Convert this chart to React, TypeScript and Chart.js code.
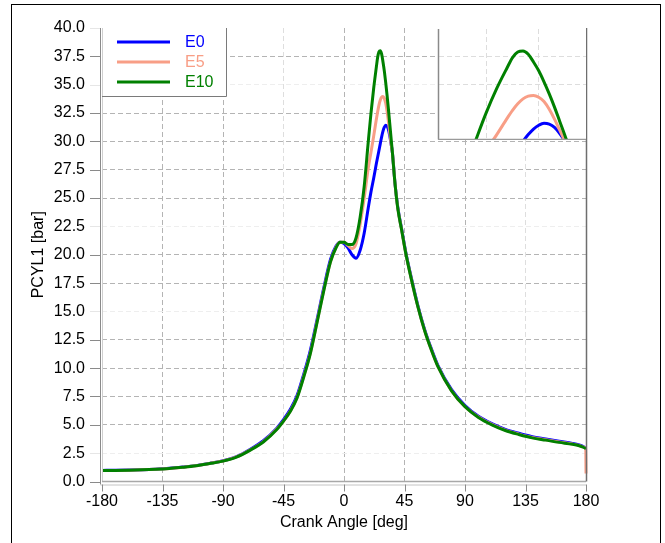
import React, { useEffect, useRef } from "react";
import { Chart, registerables } from "chart.js";

Chart.register(...registerables);

// ---------------- data ----------------
const ANGLES = [
  -180, -170, -160, -150, -140, -130, -120, -110, -100, -90,
  -80, -70, -60, -50, -45, -40, -35, -30, -25, -20, -15, -10, -6, -3,
  0, 3, 6, 9, 12, 15, 18, 20, 22, 24,
  25, 26, 27, 28, 29, 30, 31, 32, 33, 34, 35, 36,
  38, 40, 43, 46, 50, 55, 60, 65, 70, 80, 90,
  100, 110, 120, 130, 140, 150, 160, 170, 175, 178, 179.8, 180,
];

const E0 = [
  0.98, 0.99, 1.01, 1.04, 1.09, 1.16, 1.27, 1.4, 1.6, 1.83,
  2.2, 2.82, 3.6, 4.7, 5.45, 6.35, 7.55, 9.45, 11.6, 14.3, 17.1, 19.6, 20.75, 21.1,
  21.0, 20.6, 20.0, 19.7, 20.4, 21.9, 24.1, 25.5, 26.7, 28.0,
  28.6, 29.2, 29.8, 30.4, 30.9, 31.25, 31.43, 31.35, 31.05, 30.5, 29.8, 29.0,
  26.2, 24.2, 22.2, 20.2, 18.0, 15.5, 13.4, 11.7, 10.2, 8.1, 6.7,
  5.75, 5.1, 4.6, 4.25, 3.95, 3.75, 3.55, 3.36, 3.22, 3.08, 2.95, 2.92,
];

const E5 = [
  0.97, 0.98, 1.0, 1.03, 1.08, 1.15, 1.26, 1.39, 1.59, 1.81,
  2.17, 2.77, 3.52, 4.62, 5.33, 6.2, 7.38, 9.25, 11.35, 14.1, 16.9, 19.4, 20.65, 21.1,
  21.1, 20.8, 20.55, 21.0, 22.7, 25.0, 27.6, 29.0, 30.4, 31.9,
  32.6, 33.2, 33.65, 33.9, 33.96, 33.8, 33.4, 32.7, 31.8, 30.8, 29.8, 29.0,
  26.2, 24.1, 22.1, 20.1, 17.9, 15.4, 13.3, 11.6, 10.1, 8.0, 6.6,
  5.68, 5.03, 4.53, 4.18, 3.88, 3.68, 3.48, 3.3, 3.17, 3.04, 2.9, 0.7,
];

const E10 = [
  0.97, 0.98, 1.0, 1.03, 1.08, 1.15, 1.25, 1.38, 1.58, 1.8,
  2.15, 2.75, 3.48, 4.58, 5.32, 6.17, 7.35, 9.2, 11.3, 14.05, 16.85, 19.4, 20.6, 21.1,
  21.1, 20.9, 20.9, 21.5, 23.3, 26.0, 29.9, 32.4, 34.6, 36.5,
  37.4, 37.9, 38.0, 37.7, 37.0, 36.2, 35.2, 34.1, 32.9, 31.6, 30.3, 29.0,
  26.2, 24.1, 22.1, 20.1, 17.9, 15.4, 13.3, 11.6, 10.1, 8.0, 6.6,
  5.65, 5.0, 4.5, 4.15, 3.85, 3.65, 3.45, 3.28, 3.15, 3.02, 2.9, 2.88,
];

const SERIES_NAMES = ["E0", "E5", "E10"];
const X_TICKS = [-180, -135, -90, -45, 0, 45, 90, 135, 180];
const Y_TICKS = [0, 2.5, 5, 7.5, 10, 12.5, 15, 17.5, 20, 22.5, 25, 27.5, 30, 32.5, 35, 37.5, 40];
const FAINT_Y = [2.5, 15, 22.5, 35, 40];
const FAINT_X = [-45, 135];
const X_TITLE = "Crank Angle [deg]";
const Y_TITLE = "PCYL1 [bar]";
const INSET_X_RANGE = [11, 39];
const INSET_Y_RANGE = [30, 40];
const INSET_X_GRID = [20, 30];
const INSET_Y_GRID = [35, 37.5];

// ---------------- styles ----------------
const FONT = "'Liberation Sans', Arial, Helvetica, sans-serif";
const COLORS = ["#0000ff", "#f89e86", "#008000"];
const SERIES_VALUES = [E0, E5, E10];
const ORDERS = [3, 2, 1];

function makeDatasets(lineWidth: number, clip: any) {
  return SERIES_NAMES.map((name, i) => ({
    label: name,
    data: ANGLES.map((a, k) => ({ x: a, y: SERIES_VALUES[i][k] })),
    borderColor: COLORS[i],
    backgroundColor: COLORS[i],
    borderWidth: lineWidth,
    pointRadius: 0,
    cubicInterpolationMode: "monotone" as const,
    fill: false,
    order: ORDERS[i],
    clip,
  }));
}

const mainDecor = {
  id: "mainDecor",
  afterDraw(chart: any) {
    const { ctx, chartArea } = chart;
    const { left, right, top, bottom } = chartArea;
    const xs = chart.scales.x;
    const ys = chart.scales.y;
    ctx.save();
    // y axis line
    ctx.strokeStyle = "#8a8a8a";
    ctx.lineWidth = 1;
    ctx.beginPath();
    ctx.moveTo(left - 1.5, top);
    ctx.lineTo(left - 1.5, bottom + 3);
    ctx.stroke();
    ctx.strokeStyle = "#cfcfcf";
    ctx.beginPath();
    ctx.moveTo(left + 0.5, top);
    ctx.lineTo(left + 0.5, bottom);
    ctx.stroke();
    // bottom plot border
    ctx.strokeStyle = "#a8a8a8";
    ctx.lineWidth = 1.5;
    ctx.beginPath();
    ctx.moveTo(left, bottom);
    ctx.lineTo(right, bottom);
    ctx.stroke();
    // x axis line
    ctx.strokeStyle = "#c4c4c4";
    ctx.lineWidth = 1;
    ctx.beginPath();
    ctx.moveTo(left - 1.5, bottom + 3.5);
    ctx.lineTo(right, bottom + 3.5);
    ctx.stroke();
    // right border
    ctx.strokeStyle = "#6e6e6e";
    ctx.lineWidth = 1.5;
    ctx.beginPath();
    ctx.moveTo(right + 0.5, top);
    ctx.lineTo(right + 0.5, bottom);
    ctx.stroke();
    // y tick marks
    ctx.lineWidth = 1;
    Y_TICKS.forEach((v) => {
      const y = Math.round(ys.getPixelForValue(v)) + 0.5;
      ctx.strokeStyle = FAINT_Y.includes(v) ? "#e6e6e6" : "#8a8a8a";
      ctx.beginPath();
      ctx.moveTo(left - 12, y);
      ctx.lineTo(left - 2, y);
      ctx.stroke();
    });
    // x tick marks
    X_TICKS.forEach((v) => {
      const x = Math.round(xs.getPixelForValue(v)) + 0.5;
      ctx.strokeStyle = "#8a8a8a";
      ctx.beginPath();
      ctx.moveTo(x, bottom + 3);
      ctx.lineTo(x, bottom + 10);
      ctx.stroke();
    });
    // legend
    const lx0 = left;
    const lx1 = left + 124;
    const ly0 = top;
    const ly1 = top + 68;
    ctx.fillStyle = "#ffffff";
    ctx.fillRect(lx0 + 1, ly0, lx1 - lx0 - 1, ly1 - ly0);
    ctx.strokeStyle = "#7a7a7a";
    ctx.lineWidth = 1;
    ctx.beginPath();
    ctx.moveTo(lx1 + 0.5, ly0);
    ctx.lineTo(lx1 + 0.5, ly1 + 0.5);
    ctx.lineTo(lx0, ly1 + 0.5);
    ctx.stroke();
    ctx.font = `16px ${FONT}`;
    ctx.textBaseline = "middle";
    ctx.textAlign = "left";
    SERIES_NAMES.forEach((name, i) => {
      const y = top + 14 + i * 20;
      ctx.strokeStyle = COLORS[i];
      ctx.lineWidth = 3;
      ctx.beginPath();
      ctx.moveTo(left + 15, y);
      ctx.lineTo(left + 68, y);
      ctx.stroke();
      ctx.fillStyle = COLORS[i];
      ctx.fillText(name, left + 83, y + 1);
    });
    ctx.restore();
  },
};

const insetDecor = {
  id: "insetDecor",
  beforeDraw(chart: any) {
    const { ctx, width, height } = chart;
    ctx.save();
    ctx.fillStyle = "#ffffff";
    ctx.fillRect(0, 0, width, height);
    ctx.restore();
  },
  afterDraw(chart: any) {
    const { ctx, chartArea } = chart;
    const { left, right, top, bottom } = chartArea;
    ctx.save();
    ctx.lineWidth = 1.5;
    ctx.strokeStyle = "#8a8a8a";
    ctx.beginPath();
    ctx.moveTo(left - 0.5, top);
    ctx.lineTo(left - 0.5, bottom + 0.5);
    ctx.stroke();
    ctx.strokeStyle = "#9a9a9a";
    ctx.beginPath();
    ctx.moveTo(left - 1, bottom + 0.5);
    ctx.lineTo(right, bottom + 0.5);
    ctx.stroke();
    ctx.restore();
  },
};

export default function App() {
  const mainRef = useRef<HTMLCanvasElement>(null);
  const insetRef = useRef<HTMLCanvasElement>(null);

  useEffect(() => {
    const font16 = { family: FONT, size: 16 };
    const main = new Chart(mainRef.current as HTMLCanvasElement, {
      type: "line",
      data: { datasets: makeDatasets(3, 2) as any },
      options: {
        responsive: false,
        animation: false,
        events: [],
        layout: { padding: { left: 12, top: 28, right: 79, bottom: 0 } },
        plugins: { legend: { display: false }, tooltip: { enabled: false } },
        scales: {
          x: {
            type: "linear",
            min: -180,
            max: 180,
            afterBuildTicks: (s: any) => {
              s.ticks = X_TICKS.map((v) => ({ value: v }));
            },
            afterFit: (s: any) => {
              s.height = 61.5;
            },
            ticks: {
              font: font16,
              color: "#000",
              padding: 10,
              maxRotation: 0,
              autoSkip: false,
              callback: (v: any) => String(v),
            },
            grid: {
              drawTicks: false,
              lineWidth: 1,
              color: (c: any) => {
                const v = c.tick ? c.tick.value : 0;
                if (v === -180 || v === 180) return "rgba(0,0,0,0)";
                return FAINT_X.includes(v) ? "#dedede" : "#b4b4b4";
              },
            },
            border: { display: false, dash: [5, 3] },
            title: {
              display: true,
              text: X_TITLE,
              font: font16,
              color: "#000",
              padding: { top: 0, bottom: 11 },
            },
          },
          y: {
            type: "linear",
            min: 0,
            max: 40,
            afterBuildTicks: (s: any) => {
              s.ticks = Y_TICKS.map((v) => ({ value: v }));
            },
            afterFit: (s: any) => {
              s.width = 90;
            },
            ticks: {
              font: font16,
              color: "#000",
              padding: 17,
              autoSkip: false,
              callback: (v: any) => Number(v).toFixed(1),
            },
            grid: {
              drawTicks: false,
              lineWidth: 1,
              color: (c: any) => {
                const v = c.tick ? c.tick.value : 0;
                if (v === 0 || v === 40) return "rgba(0,0,0,0)";
                return FAINT_Y.includes(v) ? "#eeeeee" : "#b4b4b4";
              },
            },
            border: { display: false, dash: [5, 3] },
            title: {
              display: true,
              text: Y_TITLE,
              font: font16,
              color: "#000",
              padding: { top: 17, bottom: 0 },
            },
          },
        },
      },
      plugins: [mainDecor],
    });

    const inset = new Chart(insetRef.current as HTMLCanvasElement, {
      type: "line",
      data: { datasets: makeDatasets(3, 0) as any },
      options: {
        responsive: false,
        animation: false,
        events: [],
        layout: { padding: { left: 2, top: 1, right: 0, bottom: 1 } },
        plugins: { legend: { display: false }, tooltip: { enabled: false } },
        scales: {
          x: {
            type: "linear",
            min: INSET_X_RANGE[0],
            max: INSET_X_RANGE[1],
            afterBuildTicks: (s: any) => {
              s.ticks = INSET_X_GRID.map((v) => ({ value: v }));
            },
            afterFit: (s: any) => {
              s.height = 0;
            },
            ticks: { display: false },
            grid: { drawTicks: false, color: "#dddddd", lineWidth: 1 },
            border: { display: false, dash: [5, 3] },
          },
          y: {
            type: "linear",
            min: INSET_Y_RANGE[0],
            max: INSET_Y_RANGE[1],
            afterBuildTicks: (s: any) => {
              s.ticks = INSET_Y_GRID.map((v) => ({ value: v }));
            },
            afterFit: (s: any) => {
              s.width = 0;
            },
            ticks: { display: false },
            grid: { drawTicks: false, color: "#dddddd", lineWidth: 1 },
            border: { display: false, dash: [5, 3] },
          },
        },
      },
      plugins: [insetDecor],
    });

    return () => {
      main.destroy();
      inset.destroy();
    };
  }, []);

  return (
    <div
      style={{
        position: "fixed",
        left: 0,
        top: 0,
        width: 665,
        height: 543,
        overflow: "hidden",
        background: "#ffffff",
      }}
    >
      <canvas
        ref={mainRef}
        width={665}
        height={543}
        style={{ position: "absolute", left: 0, top: 0, width: 665, height: 543 }}
      />
      <canvas
        ref={insetRef}
        width={149}
        height={112}
        style={{ position: "absolute", left: 437, top: 28, width: 149, height: 112 }}
      />
      <div
        style={{
          position: "absolute",
          left: 11,
          top: 4,
          width: 650,
          height: 600,
          border: "1.5px solid #000",
          boxSizing: "border-box",
          pointerEvents: "none",
        }}
      />
    </div>
  );
}
